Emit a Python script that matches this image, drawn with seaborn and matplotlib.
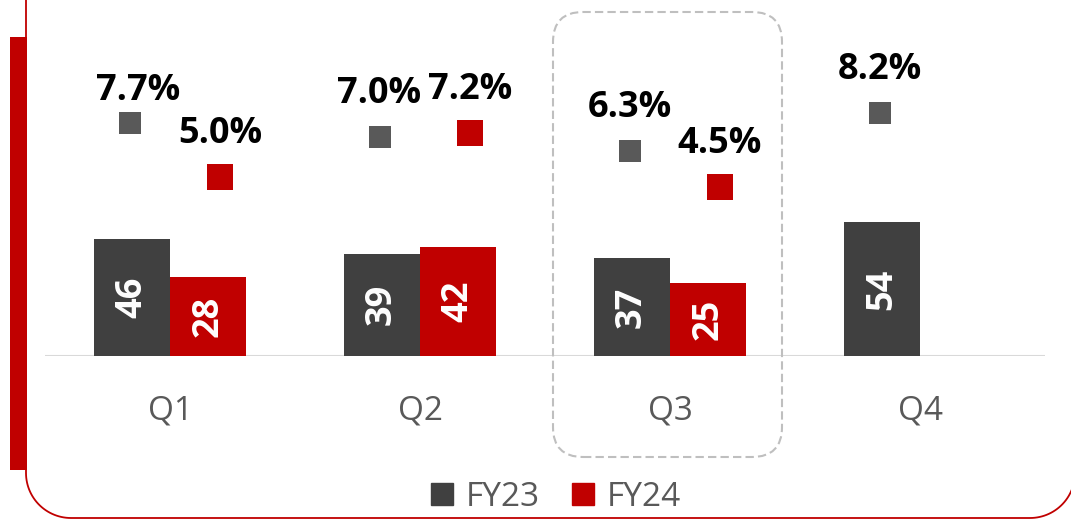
import numpy as np
import pandas as pd
import matplotlib
matplotlib.use('Agg')
import matplotlib.pyplot as plt
import seaborn as sns
from matplotlib.patches import FancyBboxPatch, Rectangle, PathPatch
from matplotlib.path import Path
from matplotlib.lines import Line2D

# Data
quarters = ['Q1', 'Q2', 'Q3', 'Q4']
fy23_value = [46, 39, 37, 54]
fy24_value = [28, 42, 25, np.nan]
fy23_pct = [7.7, 7.0, 6.3, 8.2]
fy24_pct = [5.0, 7.2, 4.5, np.nan]
years = ['FY23', 'FY24']

GRAY = '#404040'
GRAY_MK = '#595959'
RED = '#C00000'
TXT = '#595959'

sns.set_theme(style='white')
plt.rcParams['font.family'] = ['Open Sans', 'DejaVu Sans']

# value axis of the original does not start at zero: bars rise from BASE
BASE = -9.7

bars = pd.DataFrame({
    'quarter': quarters * 2,
    'year': ['FY23'] * 4 + ['FY24'] * 4,
    'value': fy23_value + fy24_value,
}).dropna()
bars['bar_height'] = bars['value'] - BASE

fig = plt.figure(figsize=(10.71, 5.2), dpi=100)
fig.patch.set_facecolor('white')
ax = fig.add_axes([45 / 1071, 164 / 520, 1000 / 1071, 356 / 520])

sns.barplot(data=bars, x='quarter', y='bar_height', hue='year', order=quarters,
            hue_order=years, palette={'FY23': GRAY, 'FY24': RED},
            width=0.61, gap=0, saturation=1, bottom=BASE, legend=False,
            linewidth=0, ax=ax)
for cont, yr in zip(ax.containers, years):
    vals = bars.loc[bars['year'] == yr, 'value']
    ax.bar_label(cont, labels=[f'{v:.0f}' for v in vals], label_type='center',
                 rotation=90, color='white', fontsize=26, fontweight='bold')

ax.set_ylim(BASE, BASE + 356 / 2.1)
ax.axhline(BASE, color='#D9D9D9', lw=1.5, zorder=0)

# Percentages on a second axis
ax2 = ax.twinx()
x = np.arange(len(quarters))
sns.scatterplot(x=x - 0.162, y=fy23_pct, marker='s', s=16.5 ** 2,
                color=GRAY_MK, linewidth=0, ax=ax2)
sns.scatterplot(x=x + 0.2, y=fy24_pct, marker='s', s=18.5 ** 2,
                color=RED, linewidth=0, ax=ax2)
ax2.set_ylim(-3.91, 13.80)

nudge = {(0, 'FY23'): (6.5, 23)}
for off, pcts, yr in [(-0.162, fy23_pct, 'FY23'), (0.2, fy24_pct, 'FY24')]:
    for i, v in enumerate(pcts):
        if np.isnan(v):
            continue
        ax2.annotate(f'{v:.1f}%', (i + off, v),
                     xytext=nudge.get((i, yr), (0, 31)),
                     textcoords='offset points', ha='center', va='center',
                     fontsize=26, fontweight='bold', color='black')

ax.set_xlim(-0.5, 3.5)
for a in (ax, ax2):
    a.set_xlabel('')
    a.set_ylabel('')
    for s in a.spines.values():
        s.set_visible(False)
    a.set_yticks([])
    a.patch.set_visible(False)
ax.tick_params(axis='x', length=0, pad=28, labelsize=24, labelcolor=TXT)

# Legend
handles = [Line2D([], [], marker='s', ls='none', ms=16.5, color=GRAY),
           Line2D([], [], marker='s', ls='none', ms=16.5, color=RED)]
fig.legend(handles, years, loc='center', bbox_to_anchor=(555 / 1071, 1 - 497 / 520),
           ncol=2, frameon=False, fontsize=24, labelcolor=TXT,
           handlelength=0.8, handletextpad=0.3, columnspacing=0.9)

# Decorations: highlight box around Q3, frame and red side bar (inches)
tr = fig.dpi_scale_trans
fig.patches.append(FancyBboxPatch((5.53, 0.63), 2.29, 4.45,
                                  boxstyle='round,pad=0,rounding_size=0.3',
                                  transform=tr, fill=False, ec='#BFBFBF', lw=1.5,
                                  ls=(0, (4, 2)), figure=fig))

r = 0.45
left, right, bot = 0.26, 10.75, 0.02
t = np.linspace(0, np.pi / 2, 30)
verts = [(left, 6.0)]
verts += [(left + r - r * np.cos(a), bot + r - r * np.sin(a)) for a in t]
verts += [(right - r + r * np.sin(a), bot + r - r * np.cos(a)) for a in t]
verts += [(right, 6.0)]
fig.patches.append(PathPatch(Path(verts), transform=tr, fill=False, ec=RED,
                             lw=1.3, figure=fig))
fig.patches.append(Rectangle((0.10, 0.50), 0.17, 4.33, transform=tr,
                             fc=RED, ec='none', figure=fig))

fig.savefig('out.png', dpi=100)
